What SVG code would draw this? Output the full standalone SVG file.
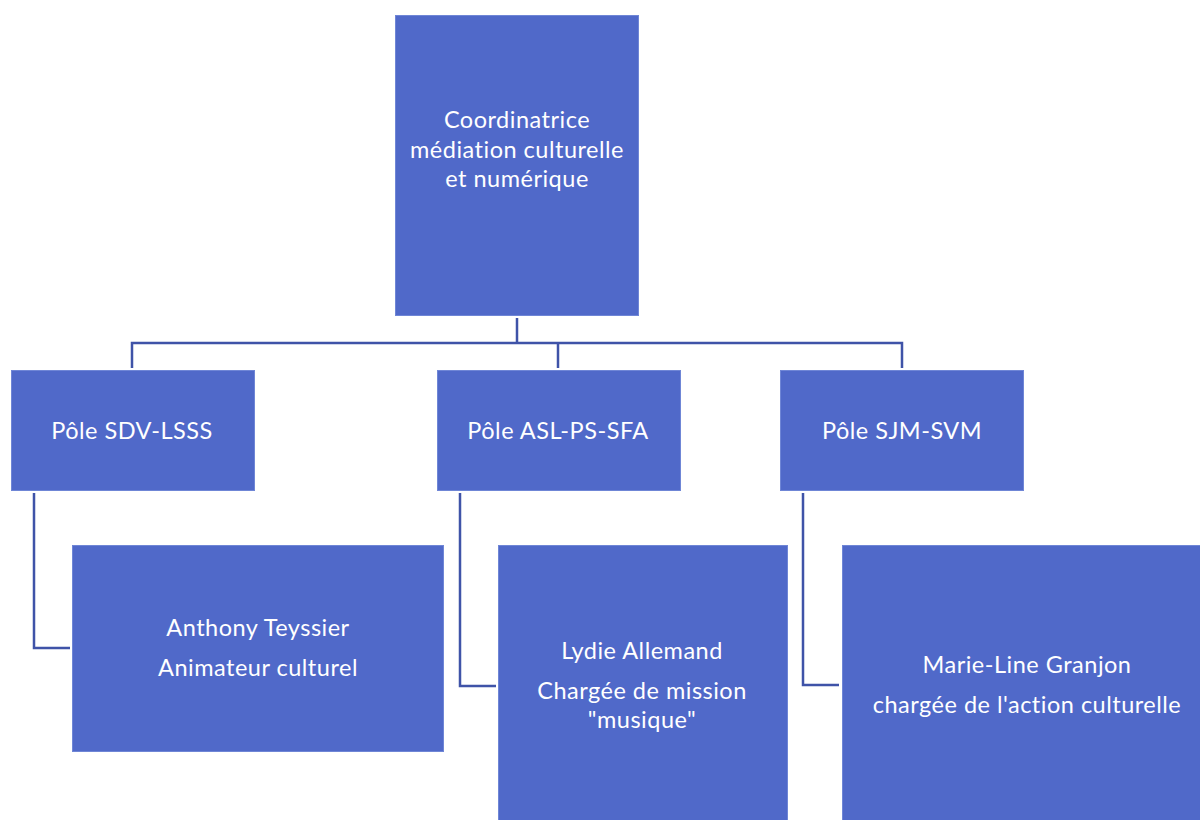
<svg xmlns="http://www.w3.org/2000/svg" width="1200" height="820" viewBox="0 0 1200 820">
<style>
.box{fill:#5069C9;stroke:#6F86D6;stroke-width:1}
.t{font-family:Lato,"Open Sans","Liberation Sans",sans-serif;font-size:23.5px;letter-spacing:0.5px;fill:#ffffff;text-anchor:middle}
.c{fill:none;stroke:#3F53A8;stroke-width:2.5}
</style>
<rect width="1200" height="820" fill="#ffffff"/>
<g id="connectors">
<polyline class="c" points="517,318 517,343"/>
<polyline class="c" points="132,368 132,343 902,343 902,368"/>
<polyline class="c" points="558,343 558,368"/>
<polyline class="c" points="34,493 34,648 70,648"/>
<polyline class="c" points="460,493 460,686 496,686"/>
<polyline class="c" points="803,493 803,685 839,685"/>
</g>
<g id="n-coord">
<rect class="box" x="395.5" y="15.5" width="243" height="300"/>
<text class="t" x="517" y="128">Coordinatrice</text>
<text class="t" x="517" y="158">médiation culturelle</text>
<text class="t" x="517" y="187">et numérique</text>
</g>
<g id="n-pole1">
<rect class="box" x="11.5" y="370.5" width="243" height="120"/>
<text class="t" x="132" y="439">Pôle SDV-LSSS</text>
</g>
<g id="n-pole2">
<rect class="box" x="437.5" y="370.5" width="243" height="120"/>
<text class="t" x="558" y="439">Pôle ASL-PS-SFA</text>
</g>
<g id="n-pole3">
<rect class="box" x="780.5" y="370.5" width="243" height="120"/>
<text class="t" x="902" y="439">Pôle SJM-SVM</text>
</g>
<g id="n-anthony">
<rect class="box" x="72.5" y="545.5" width="371" height="206"/>
<text class="t" x="258" y="636">Anthony Teyssier</text>
<text class="t" x="258" y="676">Animateur culturel</text>
</g>
<g id="n-lydie">
<rect class="box" x="498.5" y="545.5" width="289" height="290"/>
<text class="t" x="642" y="659">Lydie Allemand</text>
<text class="t" x="642" y="699">Chargée de mission</text>
<text class="t" x="642" y="728">"musique"</text>
</g>
<g id="n-marie">
<rect class="box" x="842.5" y="545.5" width="370" height="290"/>
<text class="t" x="1027" y="673">Marie-Line Granjon</text>
<text class="t" x="1027" y="713">chargée de l'action culturelle</text>
</g>
</svg>
